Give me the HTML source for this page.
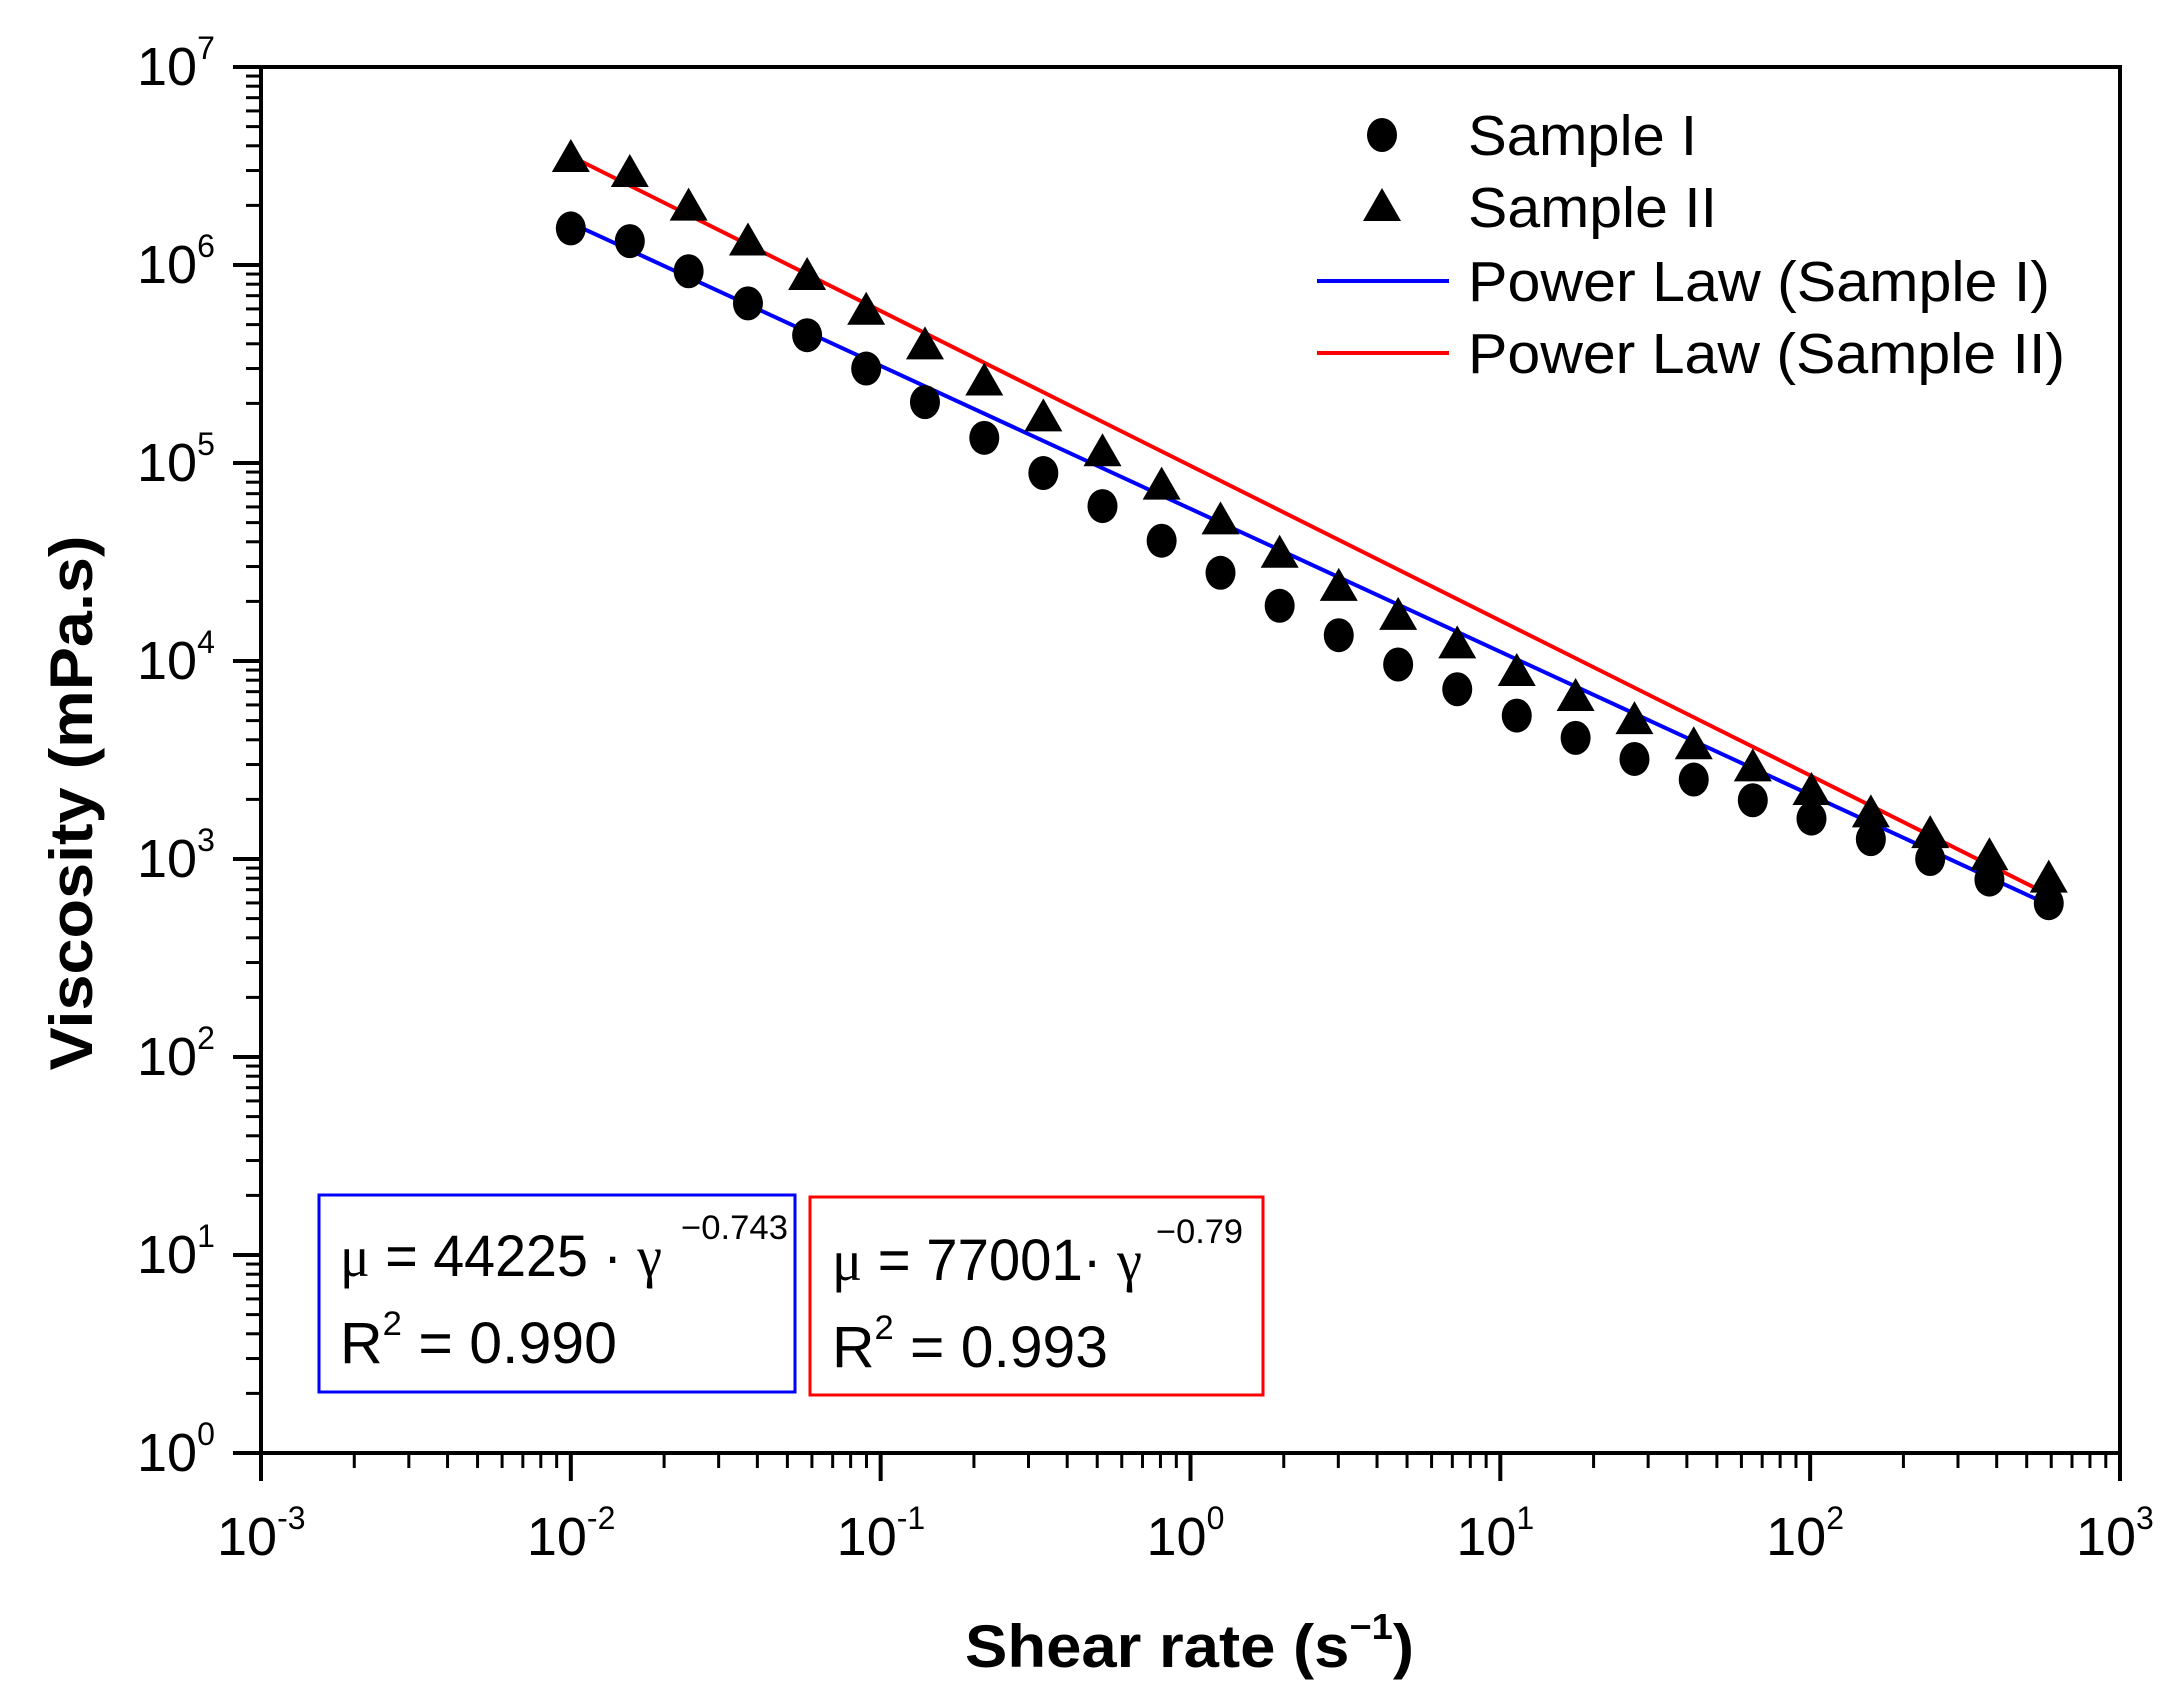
<!DOCTYPE html>
<html><head><meta charset="utf-8"><style>
html,body{margin:0;padding:0;background:#fff}
svg{display:block}
text{font-family:"Liberation Sans",sans-serif;fill:#000}
</style></head><body>
<svg id="chart" width="2178" height="1707" viewBox="0 0 2178 1707" xmlns="http://www.w3.org/2000/svg">
<rect x="0" y="0" width="2178" height="1707" fill="#fff"/>
<g id="grid"></g>
<g id="series"></g>
<rect x="261" y="67" width="1859" height="1386" fill="none" stroke="#000" stroke-width="4"/>
<g id="axes"></g>
<text transform="translate(92,803) rotate(-90)" text-anchor="middle" font-weight="bold" font-size="60" textLength="535" lengthAdjust="spacingAndGlyphs">Viscosity (mPa.s)</text>
<text x="965" y="1667" font-weight="bold" font-size="60" textLength="449" lengthAdjust="spacingAndGlyphs">Shear rate (s<tspan font-size="36" dy="-28">−1</tspan><tspan dy="28">)</tspan></text>
<g>
<ellipse cx="1382" cy="135" rx="15" ry="17" fill="#000"/>
<text x="1468" y="155" font-size="57" textLength="229" lengthAdjust="spacingAndGlyphs">Sample I</text>
<polygon points="1382,188 1363,221 1401,221" fill="#000"/>
<text x="1468" y="227" font-size="57" textLength="249" lengthAdjust="spacingAndGlyphs">Sample II</text>
<line x1="1317" y1="281" x2="1449" y2="281" stroke="#0000ff" stroke-width="4"/>
<text x="1468" y="301" font-size="57" textLength="582" lengthAdjust="spacingAndGlyphs">Power Law (Sample I)</text>
<line x1="1317" y1="353" x2="1449" y2="353" stroke="#ff0000" stroke-width="4"/>
<text x="1468" y="373" font-size="57" textLength="597" lengthAdjust="spacingAndGlyphs">Power Law (Sample II)</text>
</g>
<g>
<rect x="319" y="1195" width="476" height="197" fill="none" stroke="#0000ff" stroke-width="3"/>
<text x="340" y="1276" font-size="58" textLength="322" lengthAdjust="spacingAndGlyphs"><tspan font-family="Liberation Serif">μ</tspan> = 44225 · <tspan font-family="Liberation Serif">γ</tspan></text>
<text x="681" y="1239" font-size="34" textLength="107" lengthAdjust="spacingAndGlyphs">−0.743</text>
<text x="340" y="1363" font-size="58" textLength="277" lengthAdjust="spacingAndGlyphs">R<tspan font-size="34" dy="-28">2</tspan><tspan dy="28"> = 0.990</tspan></text>
</g>
<g>
<rect x="810" y="1197" width="453" height="198" fill="none" stroke="#ff0000" stroke-width="3"/>
<text x="832" y="1280" font-size="58" textLength="310" lengthAdjust="spacingAndGlyphs"><tspan font-family="Liberation Serif">μ</tspan> = 77001· <tspan font-family="Liberation Serif">γ</tspan></text>
<text x="1156" y="1243" font-size="34" textLength="87" lengthAdjust="spacingAndGlyphs">−0.79</text>
<text x="832" y="1367" font-size="58" textLength="276" lengthAdjust="spacingAndGlyphs">R<tspan font-size="34" dy="-28">2</tspan><tspan dy="28"> = 0.993</tspan></text>
</g>
</svg>
<script>
const shearRates=[0.01,0.0155,0.024,0.0373,0.0579,0.0898,0.139,0.216,0.335,0.52,0.807,1.25,1.94,3.01,4.68,7.26,11.3,17.5,27.1,42.1,65.3,101,157,244,379,589];
const sample1=[1.53e6,1.32e6,9.3e5,6.4e5,4.42e5,3.0e5,2.03e5,1.34e5,8.9e4,6.06e4,4.05e4,2.79e4,1.9e4,1.35e4,9.6e3,7.2e3,5.3e3,4.09e3,3.2e3,2.52e3,1.98e3,1.6e3,1.26e3,1.0e3,787,598];
const sample2=[3.43e6,2.88e6,1.95e6,1.30e6,8.7e5,5.81e5,3.88e5,2.55e5,1.68e5,1.12e5,7.6e4,5.07e4,3.44e4,2.34e4,1.67e4,1.2e4,8.7e3,6.5e3,4.97e3,3.71e3,2.87e3,2.18e3,1.68e3,1.32e3,1.02e3,787];
const fitCoef=[5.87e4,9.68e4];
const fitExp=[-0.722,-0.782];
const fitRange=[0.01,600];
const xTickExps=[-3,-2,-1,0,1,2,3];
const yTickExps=[0,1,2,3,4,5,6,7];

const NS='http://www.w3.org/2000/svg';
const X=v=>261+(Math.log10(v)+3)*309.83;
const Y=v=>1453-Math.log10(v)*198;
function mk(tag,attrs,parent){const e=document.createElementNS(NS,tag);for(const k in attrs)e.setAttribute(k,attrs[k]);parent.appendChild(e);return e;}
const axes=document.getElementById('axes');
const series=document.getElementById('series');

yTickExps.forEach(p=>{
  const y=Y(Math.pow(10,p));
  const t=mk('line',{x1:233,y1:y,x2:261,y2:y,stroke:'#000','stroke-width':4},axes);
  
  
  const lb=mk('text',{x:137,y:y+18,'font-size':54},axes);
  
  
  lb.textContent='10';
  const sp=mk('tspan',{'font-size':32,dy:-26},lb);sp.textContent=String(p);
  if(p<7){for(let k=2;k<=9;k++){const ym=Y(k*Math.pow(10,p));
    const m=mk('line',{x1:246,y1:ym,x2:261,y2:ym,stroke:'#000','stroke-width':3},axes);
    
    }}
});
xTickExps.forEach(p=>{
  const x=X(Math.pow(10,p));
  const t=mk('line',{x1:x,y1:1453,x2:x,y2:1481,stroke:'#000','stroke-width':4},axes);
  
  
  const lb=mk('text',{x:x-44,y:1555,'font-size':54},axes);
  
  
  lb.textContent='10';
  const sp=mk('tspan',{'font-size':32,dy:-26},lb);sp.textContent=String(p);
  if(p<3){for(let k=2;k<=9;k++){const xm=X(k*Math.pow(10,p));
    const m=mk('line',{x1:xm,y1:1453,x2:xm,y2:1468,stroke:'#000','stroke-width':3},axes);
    
    }}
});
const fitColors=['#0000ff','#ff0000'];
fitCoef.forEach((a,i)=>{
  const f=x=>a*Math.pow(x,fitExp[i]);
  const l=mk('line',{x1:X(fitRange[0]),y1:Y(f(fitRange[0])),x2:X(fitRange[1]),y2:Y(f(fitRange[1])),stroke:fitColors[i],'stroke-width':4},series);
  
  
});
shearRates.forEach((x,i)=>{
  const c=mk('ellipse',{cx:X(x),cy:Y(sample1[i]),rx:15,ry:17,fill:'#000'},series);
  
  
  const cx=X(x),cy=Y(sample2[i]);
  const t=mk('polygon',{points:`${cx},${cy-20} ${cx-19},${cy+13} ${cx+19},${cy+13}`,fill:'#000'},series);
  
  
});
</script>
</body></html>
